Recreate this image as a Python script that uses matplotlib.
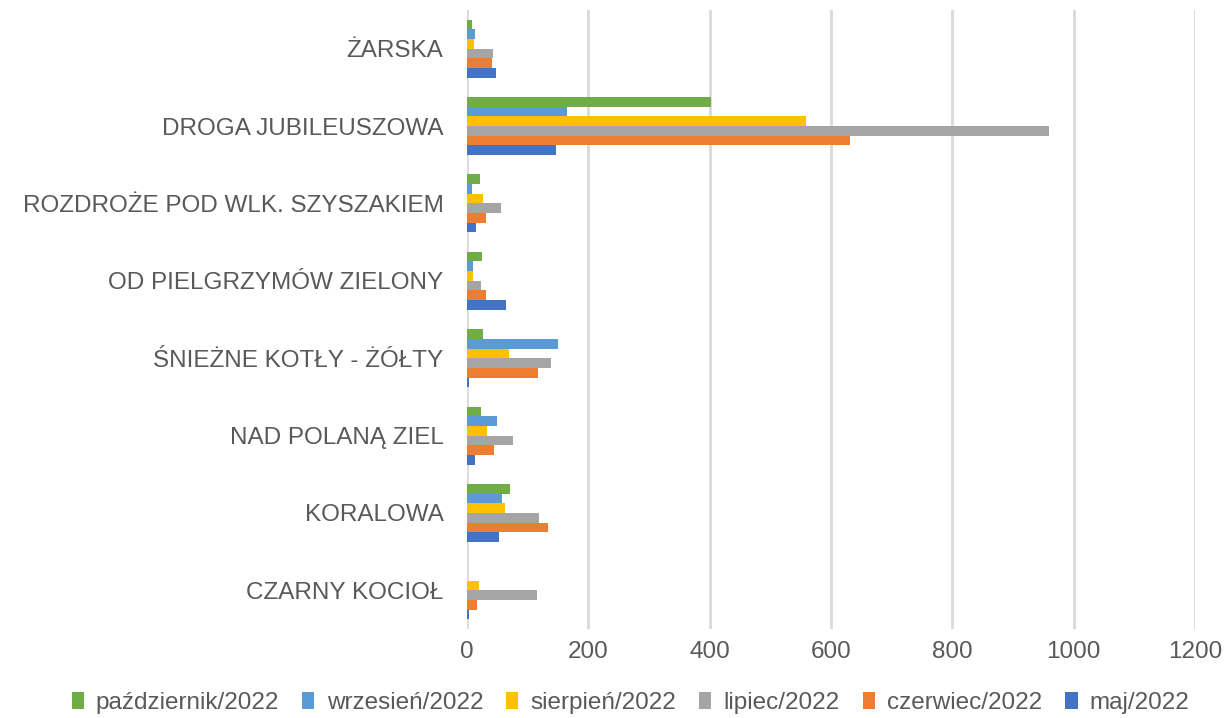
import numpy as np
import matplotlib
matplotlib.use("Agg")
from matplotlib import pyplot as plt

# Categories from bottom to top (as drawn)
categories = ["CZARNY KOCIOŁ", "KORALOWA", "NAD POLANĄ ZIEL", "ŚNIEŻNE KOTŁY - ŻÓŁTY",
              "OD PIELGRZYMÓW ZIELONY", "ROZDROŻE POD WLK. SZYSZAKIEM",
              "DROGA JUBILEUSZOWA", "ŻARSKA"]

# Series values, same order as categories
maj = [3, 53, 14, 4, 65, 15, 146, 47]
czerwiec = [17, 134, 45, 117, 31, 31, 631, 42]
lipiec = [115, 119, 75, 138, 23, 56, 959, 43]
sierpien = [20, 63, 33, 69, 10, 27, 559, 11]
wrzesien = [0, 57, 50, 150, 10, 9, 165, 14]
pazdziernik = [0, 71, 23, 26, 24, 22, 403, 8]

series = [("maj/2022", maj, "#4472C4"),
          ("czerwiec/2022", czerwiec, "#ED7D31"),
          ("lipiec/2022", lipiec, "#A5A5A5"),
          ("sierpień/2022", sierpien, "#FFC000"),
          ("wrzesień/2022", wrzesien, "#5B9BD5"),
          ("październik/2022", pazdziernik, "#70AD47")]

plt.rcParams['font.family'] = ['Liberation Sans', 'DejaVu Sans']
text_color = "#595959"

fig = plt.figure(figsize=(12.29, 7.18), dpi=100)
ax = fig.add_axes([467 / 1229, 1 - 629 / 718, (1195 - 467) / 1229, 619 / 718])

y = np.arange(len(categories))
h = 0.125
n = len(series)
handles = []
for i, (name, vals, col) in enumerate(series):
    offs = (i - (n - 1) / 2) * h
    b = ax.barh(y + offs, vals, height=h, color=col, label=name, zorder=3)
    handles.append(b)

ax.set_xlim(0, 1200)
ax.set_ylim(-0.5, len(categories) - 0.5)
ax.set_xticks(range(0, 1201, 200))
ax.set_yticks(y)
ax.set_yticklabels(categories)
ax.tick_params(axis='both', length=0, labelsize=17.5, colors=text_color)
ax.tick_params(axis='y', pad=17)
ax.tick_params(axis='x', pad=9)
ax.grid(axis='x', color="#D9D9D9", linewidth=2, zorder=0)
for s in ax.spines.values():
    s.set_visible(False)

fig.legend(handles[::-1], [s[0] for s in series][::-1], loc='center',
           bbox_to_anchor=(0.513, 1 - 703 / 718), ncol=6, frameon=False,
           fontsize=17.5, labelcolor=text_color, handlelength=0.5, handleheight=0.7,
           handletextpad=0.5, columnspacing=0.95)

plt.savefig("out.png", dpi=100)
